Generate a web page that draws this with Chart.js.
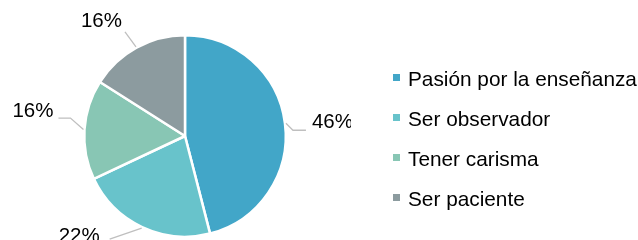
<!DOCTYPE html>
<html>
<head>
<meta charset="utf-8">
<script src="https://cdn.jsdelivr.net/npm/chart.js@4.4.1/dist/chart.umd.min.js"></script>
<style>
  html, body { margin: 0; padding: 0; background: #fff; }
  #wrap { width: 638px; height: 240px; position: relative; }
</style>
</head>
<body>
<div id="wrap"><canvas id="chart"></canvas></div>
<script>
const categories = ["Pasión por la enseñanza", "Ser observador", "Tener carisma", "Ser paciente"];
const shares = [46, 22, 16, 16];
const pctLabels = ["46%", "22%", "16%", "16%"];
const colors = ["#42a6c8", "#68c3cb", "#88c6b4", "#8c9b9f"];

// leader line tweaks per slice: elbow offset from edge, tail length, text offset from tail end
const labelLayout = [
  { elbow: [7, 7], tail: 13, text: [6, -7.5], align: "left" },
  { elbow: [-32, 11], tail: 0, text: [-10, -2.5], align: "right" },
  { elbow: [-13, -11.5], tail: -12, text: [-5, -6.5], align: "right" },
  { elbow: [-11, -15], tail: 0, text: [-3, -10.5], align: "right" }
];

const FONT = '"Liberation Sans", Arial, sans-serif';

const pieLabels = {
  id: "pieLabels",
  afterDatasetsDraw(chart) {
    const { ctx } = chart;
    const arcs = chart.getDatasetMeta(0).data;
    ctx.save();
    ctx.beginPath();
    ctx.rect(0, 0, 351, 240);
    ctx.clip();
    arcs.forEach((arc, i) => {
      const mid = (arc.startAngle + arc.endAngle) / 2;
      const r = arc.outerRadius + 1;
      const x0 = arc.x + Math.cos(mid) * r;
      const y0 = arc.y + Math.sin(mid) * r;
      const lay = labelLayout[i];
      const x1 = x0 + lay.elbow[0];
      const y1 = y0 + lay.elbow[1];
      const x2 = x1 + lay.tail;
      ctx.strokeStyle = "#bfbfbf";
      ctx.lineWidth = 1.3;
      ctx.beginPath();
      ctx.moveTo(x0, y0);
      ctx.lineTo(x1, y1);
      ctx.lineTo(x2, y1);
      ctx.stroke();
      ctx.fillStyle = "#000";
      ctx.font = "20.5px " + FONT;
      ctx.textAlign = lay.align;
      ctx.textBaseline = "middle";
      ctx.fillText(pctLabels[i], x2 + lay.text[0], y1 + lay.text[1]);
    });
    ctx.restore();
  }
};

const sideLegend = {
  id: "sideLegend",
  afterDraw(chart) {
    const { ctx } = chart;
    const items = Chart.overrides.pie.plugins.legend.labels.generateLabels(chart);
    ctx.save();
    ctx.font = "20.8px " + FONT;
    ctx.textBaseline = "middle";
    ctx.textAlign = "left";
    items.forEach((item, i) => {
      const y = 80 + i * 40;
      ctx.fillStyle = item.fillStyle;
      ctx.fillRect(393, y - 6, 7, 7);
      ctx.fillStyle = "#000";
      ctx.fillText(item.text, 408, y);
    });
    ctx.restore();
  }
};

new Chart(document.getElementById("chart"), {
  type: "pie",
  data: {
    labels: categories,
    datasets: [{
      data: shares,
      backgroundColor: colors,
      borderColor: "#fff",
      borderWidth: 2.5
    }]
  },
  options: {
    responsive: true,
    maintainAspectRatio: false,
    animation: false,
    layout: { padding: { left: 83, right: 351, top: 34, bottom: 2 } },
    plugins: {
      legend: { display: false },
      tooltip: { enabled: false }
    }
  },
  plugins: [pieLabels, sideLegend]
});
</script>
</body>
</html>
